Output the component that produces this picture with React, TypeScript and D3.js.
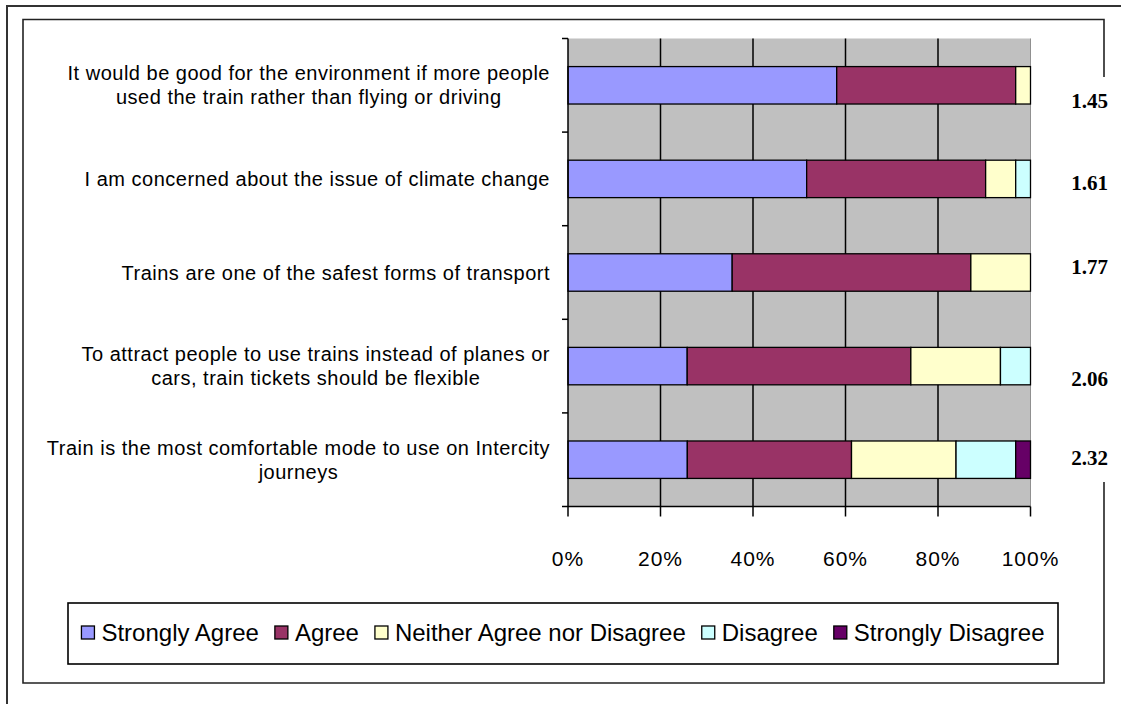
import React, { useEffect, useRef } from "react";
import * as d3 from "d3";

// Survey statements (line breaks as wrapped in the chart)
const categories = [
  "It would be good for the environment if more people\nused the train rather than flying or driving",
  "I am concerned about the issue of climate change",
  "Trains are one of the safest forms of transport",
  "To attract people to use trains instead of planes or\ncars, train tickets should be flexible",
  "Train is the most comfortable mode to use on Intercity\njourneys",
];

// Response shares (% of respondents) per statement
const seriesNames = ["Strongly Agree", "Agree", "Neither Agree nor Disagree", "Disagree", "Strongly Disagree"];
const stronglyAgree = [58.1, 51.6, 35.5, 25.8, 25.8];
const agree = [38.7, 38.7, 51.6, 48.4, 35.5];
const neither = [3.2, 6.5, 12.9, 19.4, 22.6];
const disagree = [0, 3.2, 0, 6.5, 12.9];
const stronglyDisagree = [0, 0, 0, 0, 3.2];

// Mean score per statement (1 = strongly agree ... 5 = strongly disagree)
const meanScores = [1.45, 1.61, 1.77, 2.06, 2.32];

const xTicks = [0, 0.2, 0.4, 0.6, 0.8, 1];

const seriesColors = ["#9999FF", "#993366", "#FFFFCC", "#CCFFFF", "#660066"];

// vertical nudges of the mean-score text boxes relative to their bars
const meanLabelNudge = [15, 4, -6, 12, -2];

export default function App() {
  const ref = useRef<SVGSVGElement | null>(null);

  useEffect(() => {
    const svg = d3.select(ref.current);
    svg.selectAll("*").remove();

    const W = 1121, H = 704;
    const plot = { left: 568, right: 1030.5, top: 38.5, bottom: 506.5 };

    svg.append("rect").attr("width", W).attr("height", H).attr("fill", "#fff");

    // outer frame (runs off the right and bottom edges)
    svg.append("path")
      .attr("d", `M7,${H + 5} V6 H${W + 5}`)
      .attr("fill", "none").attr("stroke", "#333").attr("stroke-width", 2);

    // chart frame; its right edge is hidden behind the mean-score labels
    const fr = { l: 23, t: 19.5, r: 1104, b: 683 };
    svg.append("path")
      .attr("d", `M${fr.r},77 V${fr.t} H${fr.l} V${fr.b} H${fr.r} V482`)
      .attr("fill", "none").attr("stroke", "#222").attr("stroke-width", 1.6);

    const rows = categories.map((c, i) => ({
      category: c,
      [seriesNames[0]]: stronglyAgree[i],
      [seriesNames[1]]: agree[i],
      [seriesNames[2]]: neither[i],
      [seriesNames[3]]: disagree[i],
      [seriesNames[4]]: stronglyDisagree[i],
    }));

    const stack = d3.stack<any>().keys(seriesNames).offset(d3.stackOffsetExpand);
    const layers = stack(rows);

    const x = d3.scaleLinear().domain([0, 1]).range([plot.left, plot.right]);
    const y = d3.scaleBand<string>().domain(categories).range([plot.top, plot.bottom])
      .paddingInner(0.6).paddingOuter(0.3);
    const step = y.step();

    // plot background
    svg.append("rect")
      .attr("x", plot.left).attr("y", plot.top)
      .attr("width", plot.right - plot.left).attr("height", plot.bottom - plot.top)
      .attr("fill", "#C0C0C0");

    // vertical gridlines
    svg.append("g").selectAll("line")
      .data(xTicks.filter((t) => t > 0 && t < 1))
      .join("line")
      .attr("x1", (d) => x(d)).attr("x2", (d) => x(d))
      .attr("y1", plot.top).attr("y2", plot.bottom)
      .attr("stroke", "#000").attr("stroke-width", 1.5);
    svg.append("line")
      .attr("x1", x(1)).attr("x2", x(1)).attr("y1", plot.top).attr("y2", plot.bottom)
      .attr("stroke", "#909090").attr("stroke-width", 1);

    // stacked bars
    const g = svg.append("g");
    layers.forEach((layer, li) => {
      g.append("g").selectAll("rect")
        .data(layer.filter((d) => d[1] - d[0] > 1e-6))
        .join("rect")
        .attr("x", (d) => x(d[0]))
        .attr("y", (d) => y(d.data.category)!)
        .attr("width", (d) => x(d[1]) - x(d[0]))
        .attr("height", y.bandwidth())
        .attr("fill", seriesColors[li])
        .attr("stroke", "#000")
        .attr("stroke-width", 1.3);
    });

    // category axis
    svg.append("line")
      .attr("x1", plot.left).attr("x2", plot.left).attr("y1", plot.top).attr("y2", plot.bottom)
      .attr("stroke", "#000").attr("stroke-width", 1.5);
    svg.append("g").selectAll("line")
      .data(d3.range(categories.length + 1))
      .join("line")
      .attr("x1", plot.left - 6).attr("x2", plot.left)
      .attr("y1", (i) => plot.top + i * step).attr("y2", (i) => plot.top + i * step)
      .attr("stroke", "#000").attr("stroke-width", 1.5);

    // value axis
    svg.append("line")
      .attr("x1", plot.left).attr("x2", plot.right).attr("y1", plot.bottom).attr("y2", plot.bottom)
      .attr("stroke", "#000").attr("stroke-width", 1.5);
    svg.append("g").selectAll("line")
      .data(xTicks)
      .join("line")
      .attr("x1", (d) => x(d)).attr("x2", (d) => x(d))
      .attr("y1", plot.bottom).attr("y2", plot.bottom + 10)
      .attr("stroke", "#000").attr("stroke-width", 1.5);
    svg.append("g").selectAll("text")
      .data(xTicks)
      .join("text")
      .attr("x", (d) => x(d))
      .attr("y", 566)
      .attr("text-anchor", "middle")
      .attr("font-family", "'Liberation Sans', Arial, sans-serif")
      .attr("font-size", 21)
      .attr("letter-spacing", 1)
      .attr("fill", "#000")
      .text((d) => d3.format(".0%")(d));

    // category labels: wrapped lines centred within a right-aligned block
    const labelRight = 550;
    const lineH = 24;
    categories.forEach((c) => {
      const lines = c.split("\n");
      const cy = y(c)! + y.bandwidth() / 2;
      const t = svg.append("g");
      const texts = lines.map((ln, i) =>
        t.append("text")
          .attr("y", cy + (i - (lines.length - 1) / 2) * lineH + 7)
          .attr("text-anchor", "middle")
          .attr("font-family", "'Liberation Sans', Arial, sans-serif")
          .attr("font-size", 20)
          .attr("letter-spacing", 0.5)
          .attr("fill", "#000")
          .text(ln)
      );
      const maxW = d3.max(texts, (tx) => (tx.node() as SVGTextElement).getComputedTextLength()) || 0;
      texts.forEach((tx) => tx.attr("x", labelRight - maxW / 2));
    });

    // mean scores
    svg.append("g").selectAll("text")
      .data(categories)
      .join("text")
      .attr("x", 1108)
      .attr("y", (c, i) => y(c)! + y.bandwidth() / 2 + meanLabelNudge[i] + 7.5)
      .attr("text-anchor", "end")
      .attr("font-family", "'Liberation Serif', 'Times New Roman', serif")
      .attr("font-weight", "bold")
      .attr("font-size", 21)
      .attr("fill", "#000")
      .text((c, i) => meanScores[i].toFixed(2));

    // legend
    const lg = { x: 68, y: 603, w: 990, h: 61 };
    svg.append("rect")
      .attr("x", lg.x).attr("y", lg.y).attr("width", lg.w).attr("height", lg.h)
      .attr("fill", "#fff").attr("stroke", "#000").attr("stroke-width", 1.6);
    const items = svg.append("g");
    const sw = 13, gapSw = 7, gapItem = 16;
    let cursor = 0;
    const cyL = lg.y + lg.h / 2;
    const placed: { g: any; w: number }[] = [];
    seriesNames.forEach((name, i) => {
      const ig = items.append("g");
      ig.append("rect")
        .attr("x", 0).attr("y", cyL - sw / 2 - 1).attr("width", sw).attr("height", sw)
        .attr("fill", seriesColors[i]).attr("stroke", "#000").attr("stroke-width", 1.3);
      const tx = ig.append("text")
        .attr("x", sw + gapSw).attr("y", cyL + 7)
        .attr("font-family", "'Liberation Sans', Arial, sans-serif")
        .attr("font-size", 24)
        .attr("fill", "#000")
        .text(name);
      const w = sw + gapSw + (tx.node() as SVGTextElement).getComputedTextLength();
      placed.push({ g: ig, w });
    });
    const total = d3.sum(placed, (p) => p.w) + gapItem * (placed.length - 1);
    cursor = lg.x + (lg.w - total) / 2;
    placed.forEach((p) => {
      p.g.attr("transform", `translate(${cursor},0)`);
      cursor += p.w + gapItem;
    });
  }, []);

  return (
    <svg
      ref={ref}
      width={1121}
      height={704}
      style={{ position: "absolute", left: 0, top: 0, display: "block" }}
    />
  );
}
